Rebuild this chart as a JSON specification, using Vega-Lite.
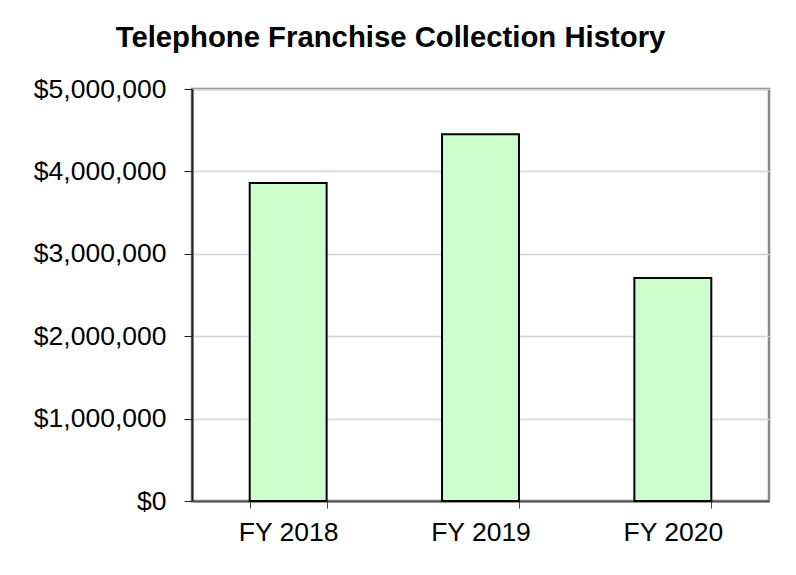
{
  "$schema": "https://vega.github.io/schema/vega-lite/v6.json",
  "width": 577,
  "height": 412,
  "autosize": {"type": "none"},
  "padding": {"left": 192, "top": 89, "right": 27, "bottom": 74},
  "background": "white",
  "title": {
    "text": "Telephone Franchise Collection History",
    "font": "Liberation Sans",
    "fontSize": 29.3,
    "fontWeight": "bold",
    "color": "black",
    "anchor": "middle",
    "dx": -90,
    "offset": 23
  },
  "data": {
    "values": [
      {"year": "FY 2018", "amount": 3860000},
      {"year": "FY 2019", "amount": 4450000},
      {"year": "FY 2020", "amount": 2705000}
    ]
  },
  "mark": {"type": "bar", "fill": "#ccffcc", "stroke": "black", "strokeWidth": 2},
  "encoding": {
    "x": {
      "field": "year",
      "type": "nominal",
      "title": null,
      "scale": {"paddingInner": 0.6, "paddingOuter": 0.3},
      "axis": {
        "labelAngle": 0,
        "labelFont": "Liberation Sans",
        "labelFontSize": 26.5,
        "labelColor": "black",
        "labelPadding": 11,
        "tickBand": "extent",
        "tickSize": 7,
        "tickColor": "#444",
        "domainColor": "#555",
        "domainWidth": 2,
        "grid": false
      }
    },
    "y": {
      "field": "amount",
      "type": "quantitative",
      "title": null,
      "scale": {"domain": [0, 5000000]},
      "axis": {
        "values": [0, 1000000, 2000000, 3000000, 4000000, 5000000],
        "format": "$,.0f",
        "labelFont": "Liberation Sans",
        "labelFontSize": 26.5,
        "labelColor": "black",
        "labelPadding": 18,
        "tickSize": 8,
        "tickColor": "#222",
        "domainColor": "#222",
        "domainWidth": 2,
        "grid": true,
        "gridColor": "#d4d4d4",
        "gridWidth": 1.5
      }
    }
  },
  "config": {
    "view": {"stroke": "#888888", "strokeWidth": 2.5}
  }
}
